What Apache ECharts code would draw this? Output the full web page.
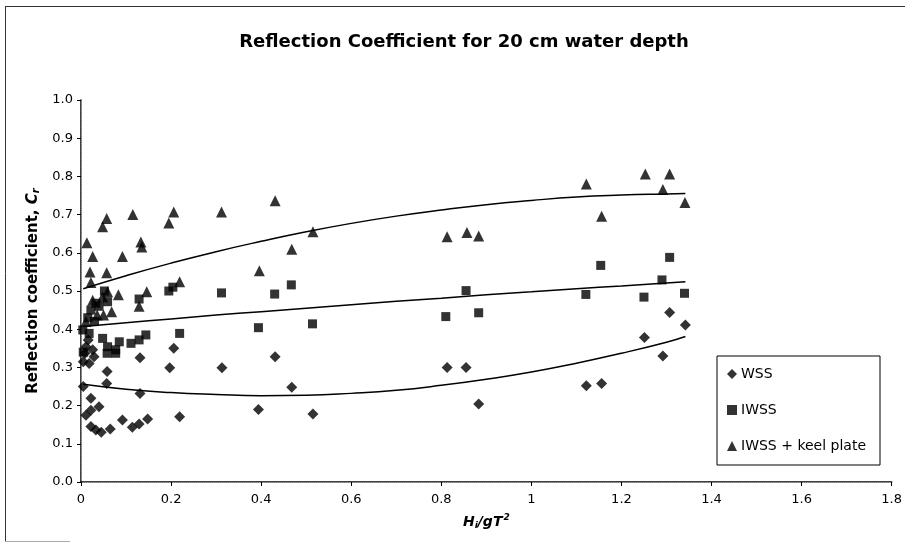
<!DOCTYPE html>
<html>
<head>
<meta charset="utf-8">
<script src="https://cdn.jsdelivr.net/npm/echarts@6/dist/echarts.min.js"></script>
<style>
  html, body { margin: 0; padding: 0; background: #fff; }
  #chart { width: 905px; height: 546px; }
</style>
</head>
<body>
<div id="chart"></div>
<script>
// Reflection coefficient Cr against Hi/gT^2, 20 cm water depth

const xTicks = ['0', '0.2', '0.4', '0.6', '0.8', '1', '1.2', '1.4', '1.6', '1.8'];
const yTicks = ['0.0', '0.1', '0.2', '0.3', '0.4', '0.5', '0.6', '0.7', '0.8', '0.9', '1.0'];

// WSS measurements [Hi/gT^2, Cr]
const wss = [
  [0.005, 0.250], [0.011, 0.175], [0.022, 0.188], [0.022, 0.219], [0.040, 0.197],
  [0.022, 0.145], [0.033, 0.136], [0.045, 0.130], [0.065, 0.139], [0.092, 0.162],
  [0.114, 0.143], [0.129, 0.152], [0.148, 0.165], [0.057, 0.258], [0.058, 0.289],
  [0.131, 0.232], [0.131, 0.325], [0.197, 0.299], [0.206, 0.350], [0.219, 0.171],
  [0.313, 0.299], [0.394, 0.190], [0.431, 0.328], [0.468, 0.248], [0.515, 0.178],
  [0.813, 0.300], [0.855, 0.300], [0.883, 0.204], [1.122, 0.252], [1.156, 0.258],
  [1.251, 0.378], [1.292, 0.330], [1.307, 0.444], [1.342, 0.411],
  [0.018, 0.310], [0.029, 0.328], [0.009, 0.337], [0.011, 0.354], [0.026, 0.346],
  [0.005, 0.315], [0.016, 0.372]
];

// IWSS measurements
const iwss = [
  [0.005, 0.340], [0.004, 0.398], [0.018, 0.389], [0.015, 0.430], [0.022, 0.450],
  [0.033, 0.468], [0.059, 0.472], [0.052, 0.500], [0.040, 0.460], [0.030, 0.420],
  [0.048, 0.376], [0.059, 0.354], [0.077, 0.346], [0.058, 0.337], [0.077, 0.337],
  [0.085, 0.367], [0.111, 0.363], [0.129, 0.372], [0.144, 0.385], [0.129, 0.479],
  [0.195, 0.500], [0.204, 0.510], [0.219, 0.389], [0.312, 0.495], [0.394, 0.404],
  [0.430, 0.492], [0.467, 0.516], [0.514, 0.414], [0.810, 0.433], [0.855, 0.501],
  [0.883, 0.443], [1.121, 0.491], [1.154, 0.567], [1.250, 0.484], [1.290, 0.529],
  [1.307, 0.588], [1.340, 0.494]
];

// IWSS + keel plate measurements
const iwssKeel = [
  [0.013, 0.626], [0.026, 0.590], [0.020, 0.550], [0.022, 0.522], [0.026, 0.476],
  [0.011, 0.420], [0.036, 0.437], [0.050, 0.437], [0.048, 0.485], [0.059, 0.498],
  [0.068, 0.446], [0.057, 0.690], [0.048, 0.668], [0.057, 0.548], [0.083, 0.490],
  [0.092, 0.590], [0.115, 0.700], [0.133, 0.628], [0.135, 0.615], [0.129, 0.460],
  [0.146, 0.498], [0.195, 0.678], [0.206, 0.707], [0.219, 0.524], [0.312, 0.707],
  [0.396, 0.553], [0.431, 0.736], [0.468, 0.609], [0.515, 0.655], [0.813, 0.642],
  [0.857, 0.653], [0.883, 0.644], [1.122, 0.780], [1.156, 0.696], [1.253, 0.806],
  [1.292, 0.766], [1.307, 0.806], [1.341, 0.732]
];

// Polynomial trend lines, sampled along Hi/gT^2
const trendX = [0.005, 0.1, 0.2, 0.3, 0.4, 0.5, 0.6, 0.7, 0.8, 0.9, 1.0, 1.1, 1.2, 1.3, 1.342];
const trendWss = [0.256, 0.243, 0.234, 0.229, 0.226, 0.227, 0.232, 0.240, 0.253, 0.269, 0.288, 0.311, 0.337, 0.366, 0.381];
const trendIwss = [0.407, 0.417, 0.427, 0.437, 0.446, 0.455, 0.464, 0.473, 0.481, 0.490, 0.498, 0.506, 0.513, 0.521, 0.524];
const trendKeel = [0.506, 0.540, 0.573, 0.603, 0.630, 0.655, 0.677, 0.696, 0.712, 0.726, 0.737, 0.746, 0.751, 0.754, 0.755];

const pair = (xs, ys) => xs.map((x, i) => [x, ys[i]]);

const FONT = '"DejaVu Sans", "Liberation Sans", Arial, sans-serif';
const chart = echarts.init(document.getElementById('chart'));

const trendSeries = (data) => ({
  type: 'line', data, smooth: true, showSymbol: false, silent: true,
  lineStyle: { color: '#000', width: 1.5 }, z: 1
});

chart.setOption({
  animation: false,
  backgroundColor: '#fff',
  textStyle: { fontFamily: FONT, color: '#000' },
  title: {
    text: 'Reflection Coefficient for 20 cm water depth',
    left: 459, top: 28, textAlign: 'center',
    textStyle: { fontFamily: FONT, fontSize: 18, fontWeight: 'bold', color: '#000' }
  },
  legend: {
    orient: 'vertical', left: 717, top: 356,
    backgroundColor: '#fff', borderColor: '#000', borderWidth: 1,
    padding: [11, 14, 12, 10], itemGap: 22, itemWidth: 10, itemHeight: 10,
    textStyle: { fontFamily: FONT, fontSize: 14, color: '#000', padding: [0, 0, 0, -1] },
    data: [
      { name: 'WSS', icon: 'diamond' },
      { name: 'IWSS', icon: 'rect' },
      { name: 'IWSS + keel plate', icon: 'triangle' }
    ]
  },
  grid: { left: 81, right: 11, top: 100, bottom: 64 },
  xAxis: [{
    type: 'value', min: 0, max: 1.8, interval: 0.2,
    axisLine: { show: true, lineStyle: { color: '#000', width: 1.5 } },
    axisTick: { show: true, length: 4, lineStyle: { color: '#000' } },
    splitLine: { show: false },
    axisLabel: {
      fontFamily: FONT, fontSize: 13, color: '#000', margin: 11,
      formatter: (v) => xTicks[Math.round(v / 0.2)]
    },
    name: '{b|H}{s|i}{b|/gT}{p|2}', nameLocation: 'middle', nameGap: 30,
    nameTextStyle: {
      rich: {
        b: { fontFamily: FONT, fontSize: 14, fontWeight: 'bold', fontStyle: 'italic', color: '#000', lineHeight: 20 },
        s: { fontFamily: FONT, fontSize: 9, fontWeight: 'bold', fontStyle: 'italic', color: '#000', padding: [8, 0, 0, 0] },
        p: { fontFamily: FONT, fontSize: 9, fontWeight: 'bold', fontStyle: 'italic', color: '#000', padding: [0, 0, 8, 1] }
      }
    }
  }, {
    type: 'value', min: 0, max: 1.8, position: 'top',
    axisLine: { show: true, lineStyle: { color: '#999', width: 1, type: 'dotted' } },
    axisTick: { show: false }, axisLabel: { show: false }, splitLine: { show: false }
  }],
  yAxis: [{
    type: 'value', min: 0, max: 1.0, interval: 0.1,
    axisLine: { show: true, lineStyle: { color: '#000', width: 1.5 } },
    axisTick: { show: true, length: 4, lineStyle: { color: '#000' } },
    splitLine: { show: false },
    axisLabel: {
      fontFamily: FONT, fontSize: 13, color: '#000', margin: 8,
      formatter: (v) => yTicks[Math.round(v * 10)]
    },
    name: '{b|Reflection coefficient, }{i|C}{s|r}', nameLocation: 'middle', nameGap: 37, nameRotate: 90,
    nameTextStyle: {
      rich: {
        b: { fontFamily: FONT, fontSize: 15, fontWeight: 'bold', color: '#000', lineHeight: 20 },
        i: { fontFamily: FONT, fontSize: 15, fontWeight: 'bold', fontStyle: 'italic', color: '#000' },
        s: { fontFamily: FONT, fontSize: 10, fontWeight: 'bold', fontStyle: 'italic', color: '#000', padding: [7, 0, 0, 0] }
      }
    }
  }, {
    type: 'value', min: 0, max: 1.0, position: 'right',
    axisLine: { show: true, lineStyle: { color: '#999', width: 1, type: 'dotted' } },
    axisTick: { show: false }, axisLabel: { show: false }, splitLine: { show: false }
  }],
  graphic: [
    { type: 'line', shape: { x1: 5.5, y1: 6, x2: 5.5, y2: 541 }, style: { stroke: '#333', lineWidth: 1 } },
    { type: 'line', shape: { x1: 5, y1: 6.5, x2: 905, y2: 6.5 }, style: { stroke: '#333', lineWidth: 1 } },
    { type: 'line', shape: { x1: 5, y1: 541.5, x2: 70, y2: 541.5 }, style: { stroke: '#aaa', lineWidth: 1 } }
  ],
  series: [
    trendSeries(pair(trendX, trendWss)),
    trendSeries(pair(trendX, trendIwss)),
    trendSeries(pair(trendX, trendKeel)),
    { name: 'WSS', type: 'scatter', data: wss, symbol: 'diamond', symbolSize: 11,
      itemStyle: { color: '#000' }, z: 3 },
    { name: 'IWSS', type: 'scatter', data: iwss, symbol: 'rect', symbolSize: 9,
      itemStyle: { color: '#000' }, z: 3 },
    { name: 'IWSS + keel plate', type: 'scatter', data: iwssKeel, symbol: 'triangle', symbolSize: 11,
      itemStyle: { color: '#000' }, z: 3 }
  ]
});
</script>
</body>
</html>
